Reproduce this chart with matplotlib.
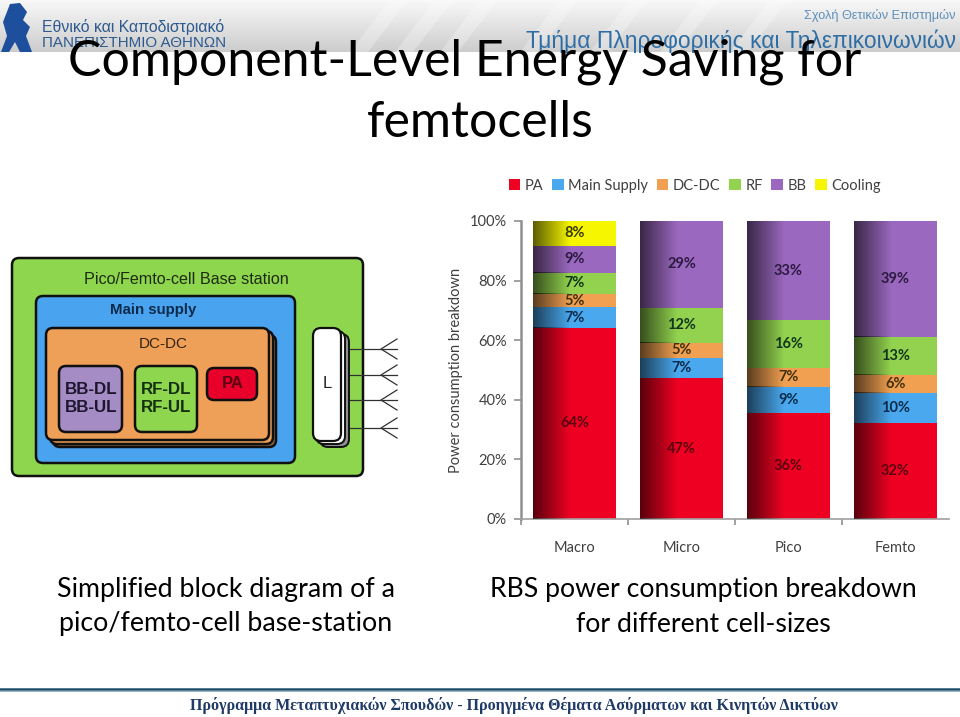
#!/usr/bin/env python3
import numpy as np
import matplotlib
matplotlib.use("Agg")
import matplotlib.pyplot as plt
from matplotlib.patches import FancyBboxPatch, Polygon

# --- chart data ---
categories = ["Macro", "Micro", "Pico", "Femto"]
pa = [64.2, 47.2, 35.5, 32.1]
main_supply = [6.8, 6.7, 8.9, 10.1]
dc_dc = [4.5, 5.3, 6.2, 6.1]
rf = [7.2, 11.7, 16.1, 12.9]
bb = [9.0, 29.1, 33.3, 38.8]
cooling = [8.3, 0, 0, 0]

pa_labels = ["64%", "47%", "36%", "32%"]
main_supply_labels = ["7%", "7%", "9%", "10%"]
dc_dc_labels = ["5%", "5%", "7%", "6%"]
rf_labels = ["7%", "12%", "16%", "13%"]
bb_labels = ["9%", "29%", "33%", "39%"]
cooling_labels = ["8%", "", "", ""]

series_names = ["PA", "Main Supply", "DC-DC", "RF", "BB", "Cooling"]
series_colors = ["#ee0022", "#4aa8ee", "#f0a050", "#92d24e", "#9a68be", "#f6f600"]
label_colors = ["#5a0010", "#0c2a4a", "#40300f", "#12351a", "#2c1a40", "#3a3a00"]
y_ticks = [0, 20, 40, 60, 80, 100]

W, H = 960, 717
fig = plt.figure(figsize=(W / 100, H / 100), dpi=100, facecolor="white")

# full page axes in pixels, for the slide furniture and the block diagram
page = fig.add_axes([0, 0, 1, 1], zorder=0)
page.set_xlim(0, W)
page.set_ylim(H, 0)
page.axis("off")

# --- header band ---
band = np.linspace(0.97, 0.80, 52).reshape(-1, 1)
page.imshow(band, extent=[0, W, 52, 0], cmap="gray", vmin=0, vmax=1, aspect="auto", zorder=0)
for x0 in [350, 395, 440, 520, 590, 660, 730]:
    page.add_patch(Polygon([[x0, 52], [x0 + 18, 52], [x0 + 58, 0], [x0 + 40, 0]],
                           fc="white", ec="none", alpha=0.28, zorder=0.5))
page.set_xlim(0, W)
page.set_ylim(H, 0)

# university logo, rough figure
page.add_patch(Polygon([[10, 4], [20, 3], [27, 12], [23, 20], [30, 27], [26, 36], [32, 52],
                        [20, 52], [15, 42], [9, 52], [1, 52], [7, 36], [3, 22]],
                       fc="#1d4f9c", ec="none", zorder=1))
page.text(42, 27, "Εθνικό και Καποδιστριακό", fontsize=11.4, color="#2d5a8e", va="center", family="Liberation Sans")
page.text(42, 43, "ΠΑΝΕΠΙΣΤΗΜΙΟ ΑΘΗΝΩΝ", fontsize=10.9, color="#2d5a8e", va="center", family="Liberation Sans")
page.text(955, 15, "Σχολή Θετικών Επιστημών", fontsize=9.2, color="#5f8fba", va="center", ha="right", family="Liberation Sans")
page.text(956, 41, "Τμήμα Πληροφορικής και Τηλεπικοινωνιών", fontsize=16.4, color="#2f6ea5", va="center", ha="right", family="Liberation Sans")

# --- slide title and captions ---
page.text(465, 62, "Component-Level Energy Saving for", fontsize=36, color="black", ha="center", va="center", family="Lato", zorder=5)
page.text(480, 123, "femtocells", fontsize=36, color="black", ha="center", va="center", family="Lato", zorder=5)
page.text(226, 589, "Simplified block diagram of a", fontsize=19.3, ha="center", va="center", family="Lato")
page.text(226, 624, "pico/femto-cell base-station", fontsize=19.3, ha="center", va="center", family="Lato")
page.text(703, 589, "RBS power consumption breakdown", fontsize=19.2, ha="center", va="center", family="Lato")
page.text(703, 624, "for different cell-sizes", fontsize=19.2, ha="center", va="center", family="Lato")

# --- footer ---
page.plot([0, W], [689, 689], color="#1f4e6b", lw=1.8)
page.plot([0, W], [691, 691], color="#9fb6c6", lw=0.8)
page.text(514, 706, "Πρόγραμμα Μεταπτυχιακών Σπουδών - Προηγμένα Θέματα Ασύρματων και Κινητών Δικτύων",
          fontsize=11.5, fontweight="bold", color="#1f3a66", ha="center", va="center", family="Liberation Serif")


def box(x0, y0, x1, y1, color, lw=1.8, rad=7, z=2):
    page.add_patch(FancyBboxPatch((x0 + rad, y0 + rad), x1 - x0 - 2 * rad, y1 - y0 - 2 * rad,
                                  boxstyle=f"round,pad={rad},rounding_size={rad}",
                                  fc=color, ec="#101010", lw=lw, zorder=z))


# --- block diagram ---
box(12, 258, 363, 476, "#8ed64e")
box(36, 296, 295, 463, "#4aa3ee", z=2.1)
box(53, 335, 276, 447, "#8a6a4a", z=2.2)
box(50, 331, 273, 444, "#ee9f58", z=2.3)
box(46, 328, 269, 440, "#ee9f58", z=2.4)
box(59, 366, 122, 432, "#a58cc4", z=2.5)
box(135, 366, 197, 432, "#8ed64e", z=2.5)
box(207, 368, 257, 400, "#e8002a", z=2.5)
box(320, 334, 349, 447, "#909090", lw=1.4, rad=8, z=2.6)
box(316, 331, 345, 444, "white", lw=1.4, rad=8, z=2.7)
box(313, 328, 341, 441, "white", lw=1.6, rad=8, z=2.8)

for y in [349, 375, 400, 428]:
    page.plot([349, 397], [y, y], color="#303030", lw=0.9, zorder=2.5)
    page.plot([397, 381, 397], [y - 10, y, y + 10], color="#303030", lw=0.9, zorder=2.5)

sans = {"family": "Liberation Sans", "ha": "center", "va": "center", "zorder": 3}
page.text(186, 279, "Pico/Femto-cell Base station", fontsize=11.6, color="#1e2a12", **sans)
page.text(153, 310, "Main supply", fontsize=10.8, color="#0c2a4a", fontweight="bold", **sans)
page.text(163, 344, "DC-DC", fontsize=11, color="#33230f", **sans)
page.text(91, 390, "BB-DL", fontsize=12.2, color="#1e1630", fontweight="bold", **sans)
page.text(91, 408, "BB-UL", fontsize=12.2, color="#1e1630", fontweight="bold", **sans)
page.text(166, 390, "RF-DL", fontsize=12.2, color="#14300f", fontweight="bold", **sans)
page.text(166, 408, "RF-UL", fontsize=12.2, color="#14300f", fontweight="bold", **sans)
page.text(233, 384, "PA", fontsize=12, color="#5a0010", fontweight="bold", **sans)
page.text(327, 384, "L", fontsize=12, color="#202020", **sans)

# --- stacked bar chart ---
ax = fig.add_axes([521 / W, 1 - 519 / H, 428 / W, 298 / H], zorder=1)
ax.patch.set_alpha(0)
x = np.arange(len(categories))
values = [pa, main_supply, dc_dc, rf, bb, cooling]
text_labels = [pa_labels, main_supply_labels, dc_dc_labels, rf_labels, bb_labels, cooling_labels]

bottom = np.zeros(len(categories))
containers = []
for name, vals, color, labels, lab_color in zip(series_names, values, series_colors, text_labels, label_colors):
    bars = ax.bar(x, vals, width=0.77, bottom=bottom, color=color, label=name, zorder=2)
    ax.bar_label(bars, labels=labels, label_type="center", color=lab_color, fontsize=10.5,
                 fontweight="bold", family="Lato", zorder=4)
    containers.append(bars)
    bottom += np.array(vals)

# dark shading on the left of every bar
shade = np.zeros((1, 64, 4))
shade[0, :, 3] = np.interp(np.linspace(0, 1, 64), [0, 0.45, 1], [0.62, 0.0, 0.0])
for bars in containers:
    for patch in bars:
        if patch.get_height() > 0:
            ax.imshow(shade, aspect="auto", zorder=3, interpolation="bilinear",
                      extent=[patch.get_x(), patch.get_x() + patch.get_width(),
                              patch.get_y(), patch.get_y() + patch.get_height()])

ax.set_xlim(-0.5, 3.5)
ax.set_ylim(0, 100)
ax.set_yticks(y_ticks)
ax.set_yticklabels([f"{t}%" for t in y_ticks], fontsize=10.5, color="#404040", family="Lato")
ax.set_xticks(np.arange(-0.5, 3, 1))
ax.set_xticklabels([])
ax.set_xticks(x, categories, minor=True, fontsize=10.5, color="#404040", family="Lato")
ax.tick_params(axis="x", which="minor", length=0, pad=16)
ax.tick_params(axis="x", which="major", length=4, width=1.2, color="#909090")
ax.tick_params(axis="y", length=5, width=1.2, color="#909090", pad=5)
ax.set_ylabel("Power consumption breakdown", fontsize=10.5, color="#404040", family="Lato", labelpad=5)
for side in ["top", "right"]:
    ax.spines[side].set_visible(False)
ax.spines["left"].set_color("#909090")
ax.spines["left"].set_linewidth(1.8)
ax.spines["bottom"].set_color("#a0a0a0")
ax.spines["bottom"].set_linewidth(1.2)

ax.legend(loc="center left", bbox_to_anchor=(-0.046, 1.118), ncol=6, frameon=False,
          handlelength=0.8, handleheight=0.8, handletextpad=0.3, columnspacing=0.6, borderpad=0,
          prop={"family": "Lato", "size": 10.5}, labelcolor="#404040")

plt.savefig("out.png", dpi=100)
plt.close()
